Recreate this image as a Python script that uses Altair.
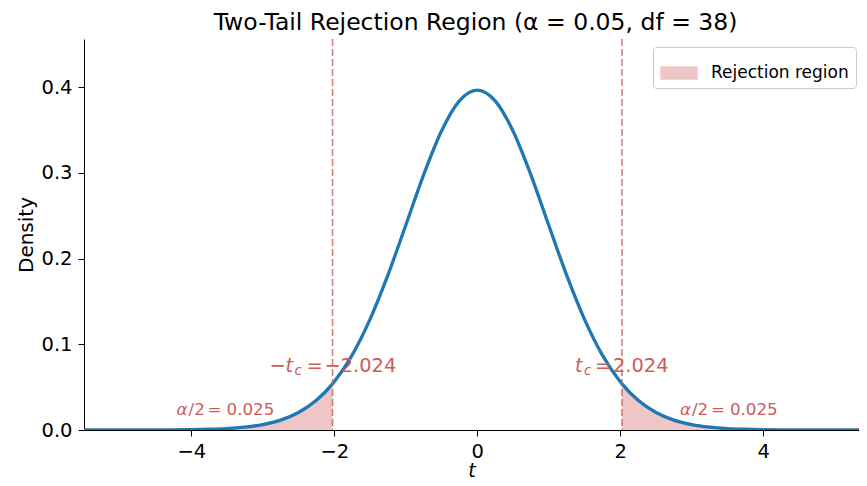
import altair as alt
import pandas as pd

# t-distribution (df = 38) density
t_vals = [-5.5, -5.25, -5.0, -4.75, -4.5, -4.25, -4.0, -3.75, -3.5, -3.25, -3.0,
          -2.75, -2.5, -2.25, -2.024, -2.0, -1.75, -1.5, -1.25, -1.0, -0.75, -0.5,
          -0.25, 0.0, 0.25, 0.5, 0.75, 1.0, 1.25, 1.5, 1.75, 2.0, 2.024, 2.25, 2.5,
          2.75, 3.0, 3.25, 3.5, 3.75, 4.0, 4.25, 4.5, 4.75, 5.0, 5.25, 5.5]
density = [0.0, 0.00001, 0.00002, 0.00004, 0.0001, 0.0002, 0.00042, 0.00085, 0.0017,
           0.0033, 0.0063, 0.0115, 0.0204, 0.0346, 0.0538, 0.0563, 0.0874, 0.1291,
           0.1806, 0.2388, 0.2976, 0.3487, 0.3838, 0.3963, 0.3838, 0.3487, 0.2976,
           0.2388, 0.1806, 0.1291, 0.0874, 0.0563, 0.0538, 0.0346, 0.0204, 0.0115,
           0.0063, 0.0033, 0.0017, 0.00085, 0.00042, 0.0002, 0.0001, 0.00004,
           0.00002, 0.00001, 0.0]
t_crit = 2.024
x_ticks = [-4, -2, 0, 2, 4]
y_ticks = [0.0, 0.1, 0.2, 0.3, 0.4]
legend_label = "Rejection region"

FONT = "DejaVu Sans"
RED = "#cd5c5c"
BLUE = "#1f77b4"

sides = ["left" if t <= -t_crit else ("right" if t >= t_crit else "center") for t in t_vals]
df = pd.DataFrame({"t": t_vals, "density": density, "side": sides})
df["region"] = legend_label

xs = alt.Scale(domain=[-5.5, 5.339], nice=False, zero=False)
ys = alt.Scale(domain=[0, 0.456], nice=False)

x_enc = alt.X("t:Q", scale=xs, axis=alt.Axis(
    values=x_ticks, format="d", title="t", titleFontStyle="italic", titleFontSize=19,
    titleFontWeight="normal", titleBaseline="alphabetic", titleY=46,
    labelFontSize=19.5, tickSize=6,
    labelPadding=6, grid=False, domainColor="black", tickColor="black",
    labelColor="black", titleColor="black", labelFont=FONT, titleFont=FONT))
y_enc = alt.Y("density:Q", scale=ys, stack=None, axis=alt.Axis(
    values=y_ticks, format=".1f", title="Density", titleFontSize=20,
    titleFontWeight="normal", titlePadding=4, labelFontSize=19.5, tickSize=6,
    labelPadding=6, grid=False, domainColor="black", tickColor="black",
    labelColor="black", titleColor="black", labelFont=FONT, titleFont=FONT))

base = alt.Chart(df)

legend = alt.Legend(
    title=None, orient="none", legendX=569, legendY=8,
    symbolType="M-1,-0.36H1V0.36H-1Z", symbolSize=1400,
    symbolOpacity=0.35, symbolStrokeWidth=0,
    labelFontSize=17, labelFont=FONT, labelColor="black",
    labelOffset=13, padding=7, strokeColor="#cccccc",
    fillColor="white", cornerRadius=3)

area = base.transform_filter(alt.datum.side != "center").mark_area(
    interpolate="monotone", opacity=0.35, clip=True
).encode(
    x=x_enc, y=y_enc, detail="side:N",
    fill=alt.Fill("region:N", scale=alt.Scale(domain=[legend_label], range=[RED]),
                  legend=legend),
)

line = base.mark_line(interpolate="monotone", color=BLUE, strokeWidth=3.3, clip=True).encode(
    x=alt.X("t:Q", scale=xs), y=alt.Y("density:Q", scale=ys)
)

crit_df = pd.DataFrame({"t": [-t_crit, t_crit]})
rules = alt.Chart(crit_df).mark_rule(color=RED, opacity=0.8, strokeDash=[7, 3],
                                     strokeWidth=1.6).encode(x=alt.X("t:Q", scale=xs))


def label(x, y, text, dx, size=19.4, italic=False, dy=0):
    d = pd.DataFrame({"t": [x], "density": [y], "txt": [text]})
    return alt.Chart(d).mark_text(
        align="left", baseline="middle", dx=dx, dy=dy, fontSize=size, font=FONT,
        fontStyle="italic" if italic else "normal", color=RED
    ).encode(x=alt.X("t:Q", scale=xs), y=alt.Y("density:Q", scale=ys), text="txt:N")


ann_y = 0.075
alpha_y = 0.0234
alpha_x = 3.52
A = 16.7
texts = [
    label(-t_crit, ann_y, "−", -63),
    label(-t_crit, ann_y, "t", -47, italic=True),
    label(-t_crit, ann_y, "c", -38, size=13.5, italic=True, dy=5),
    label(-t_crit, ann_y, "=", -26),
    label(-t_crit, ann_y, "−2.024", -8),
    label(t_crit, ann_y, "t", -47, italic=True),
    label(t_crit, ann_y, "c", -38, size=13.5, italic=True, dy=5),
    label(t_crit, ann_y, "=", -27),
    label(t_crit, ann_y, "2.024", -9),
    label(-alpha_x, alpha_y, "α", -49, size=A, italic=True),
    label(-alpha_x, alpha_y, "/2", -37, size=A),
    label(-alpha_x, alpha_y, "=", -18, size=A),
    label(-alpha_x, alpha_y, "0.025", 1, size=A),
    label(alpha_x, alpha_y, "α", -49, size=A, italic=True),
    label(alpha_x, alpha_y, "/2", -37, size=A),
    label(alpha_x, alpha_y, "=", -18, size=A),
    label(alpha_x, alpha_y, "0.025", 1, size=A),
]

chart = alt.layer(area, line, rules, *texts).properties(
    width=775, height=391,
    background="white",
    autosize=alt.AutoSizeParams(type="none"),
    padding={"left": 76, "top": 31, "right": 0, "bottom": 48},
    title=alt.TitleParams("Two-Tail Rejection Region (α = 0.05, df = 38)",
                          fontSize=23.5, font=FONT, fontWeight="normal",
                          anchor="middle", offset=4, dx=4, color="black"),
).configure_view(stroke=None)

chart.save("out.html", embed_options={"renderer": "svg", "actions": False})
